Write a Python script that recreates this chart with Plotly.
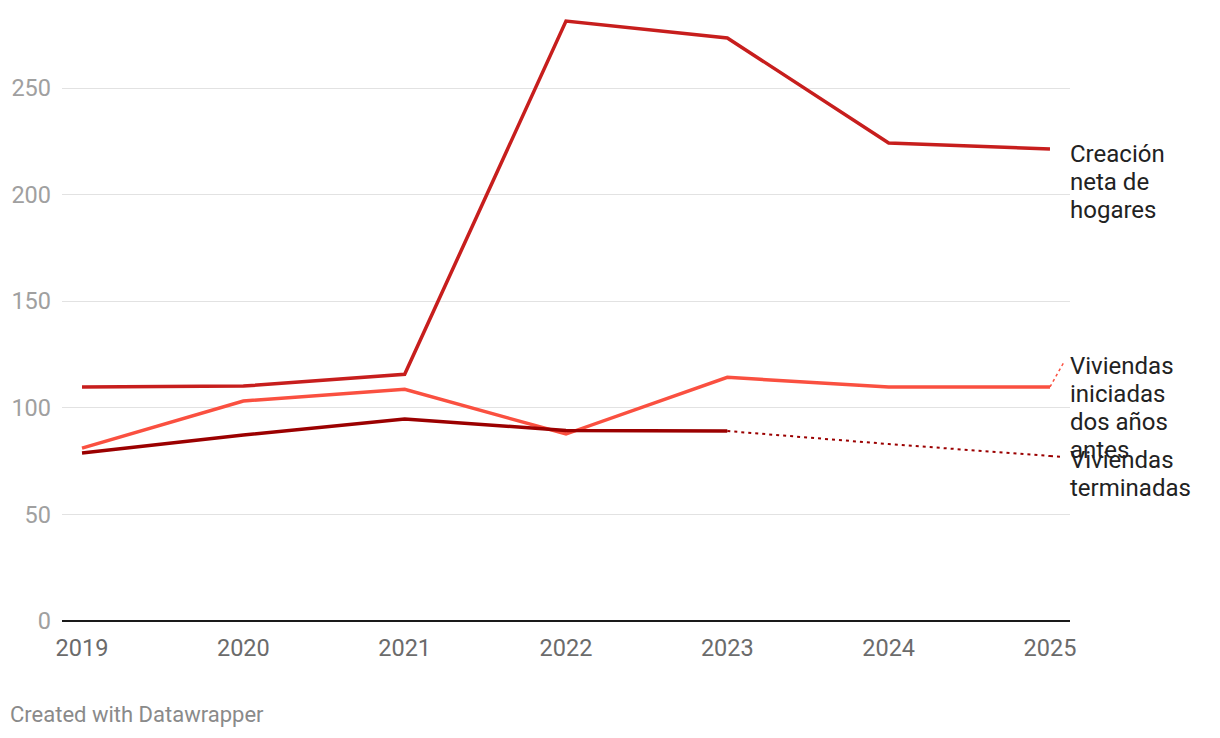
import plotly.graph_objects as go

years = [2019, 2020, 2021, 2022, 2023, 2024, 2025]
creacion_hogares = [109.8, 110.2, 115.7, 281.4, 273.5, 224.2, 221.4]
viviendas_iniciadas = [81.1, 103.2, 108.7, 87.7, 114.3, 109.8, 109.8]
term_years = [2019, 2020, 2021, 2022, 2023]
viviendas_terminadas = [78.8, 87.2, 94.7, 89.4, 89.1]
term_est_years = [2023, 2024, 2025]
viviendas_terminadas_est = [89.1, 83.0, 77.4]

series_labels = [["Creación", "neta de", "hogares"],
                 ["Viviendas", "iniciadas", "dos años", "antes"],
                 ["Viviendas", "terminadas"]]
y_ticks = [0, 50, 100, 150, 200, 250]

c_hog = "#c71e1d"
c_ini = "#fa5040"
c_ter = "#9b0000"
FONT = "Roboto"
PX_PER_UNIT = 2.132  # vertical scale used for label spacing
LINE_H = 28 / PX_PER_UNIT

fig = go.Figure()
fig.add_trace(go.Scatter(x=years, y=creacion_hogares, mode="lines",
                         line=dict(color=c_hog, width=3.5), hoverinfo="skip"))
fig.add_trace(go.Scatter(x=years, y=viviendas_iniciadas, mode="lines",
                         line=dict(color=c_ini, width=3.5), hoverinfo="skip"))
fig.add_trace(go.Scatter(x=term_years, y=viviendas_terminadas, mode="lines",
                         line=dict(color=c_ter, width=3.5), hoverinfo="skip"))
fig.add_trace(go.Scatter(x=term_est_years, y=viviendas_terminadas_est, mode="lines",
                         line=dict(color=c_ter, width=2, dash="3px,4px"), hoverinfo="skip"))
# label connectors
fig.add_trace(go.Scatter(x=[years[-1], 2025.087], y=[viviendas_iniciadas[-1], 121.5], mode="lines",
                         line=dict(color=c_ini, width=1.5, dash="3px,3px"), hoverinfo="skip"))
fig.add_trace(go.Scatter(x=[term_est_years[-1], 2025.08], y=[viviendas_terminadas_est[-1], 77.0], mode="lines",
                         line=dict(color=c_ter, width=2, dash="3px,4px"), hoverinfo="skip"))

first_line_y = [219.0, 119.6, 75.5]
for lines, y0 in zip(series_labels, first_line_y):
    for i, txt in enumerate(lines):
        fig.add_annotation(x=1, xref="paper", y=y0 - i * LINE_H, yref="y", text=txt,
                           showarrow=False, xanchor="left", yanchor="middle", align="left",
                           xshift=-2,
                           font=dict(family=FONT, size=24, color="#222222"))

fig.add_annotation(x=-0.0516, xref="paper", y=-0.153, yref="paper",
                   text="Created with Datawrapper", showarrow=False,
                   xanchor="left", yanchor="middle", xshift=-2,
                   font=dict(family=FONT, size=22, color="#8a8a8a"))

fig.update_layout(
    width=1220, height=738,
    margin=dict(l=54, r=158, t=5, b=125, autoexpand=False),
    paper_bgcolor="white", plot_bgcolor="white",
    showlegend=False,
    font=dict(family=FONT),
    xaxis=dict(range=[2018.876, 2025.124], tickvals=years, ticktext=[str(y) for y in years],
               showgrid=False, zeroline=False, showline=False, ticks="",
               ticklabelstandoff=10, automargin=False,
               tickfont=dict(family=FONT, size=23.5, color="#6b6b6b")),
    yaxis=dict(range=[0, 285.2], tickvals=y_ticks, showgrid=True, gridcolor="#e2e2e2",
               gridwidth=1, zeroline=True, zerolinecolor="#1a1a1a", zerolinewidth=2,
               showline=False, ticks="", ticklabelstandoff=10, automargin=False,
               tickfont=dict(family=FONT, size=23.5, color="#a0a0a0")),
)

fig.write_html("out.html")
